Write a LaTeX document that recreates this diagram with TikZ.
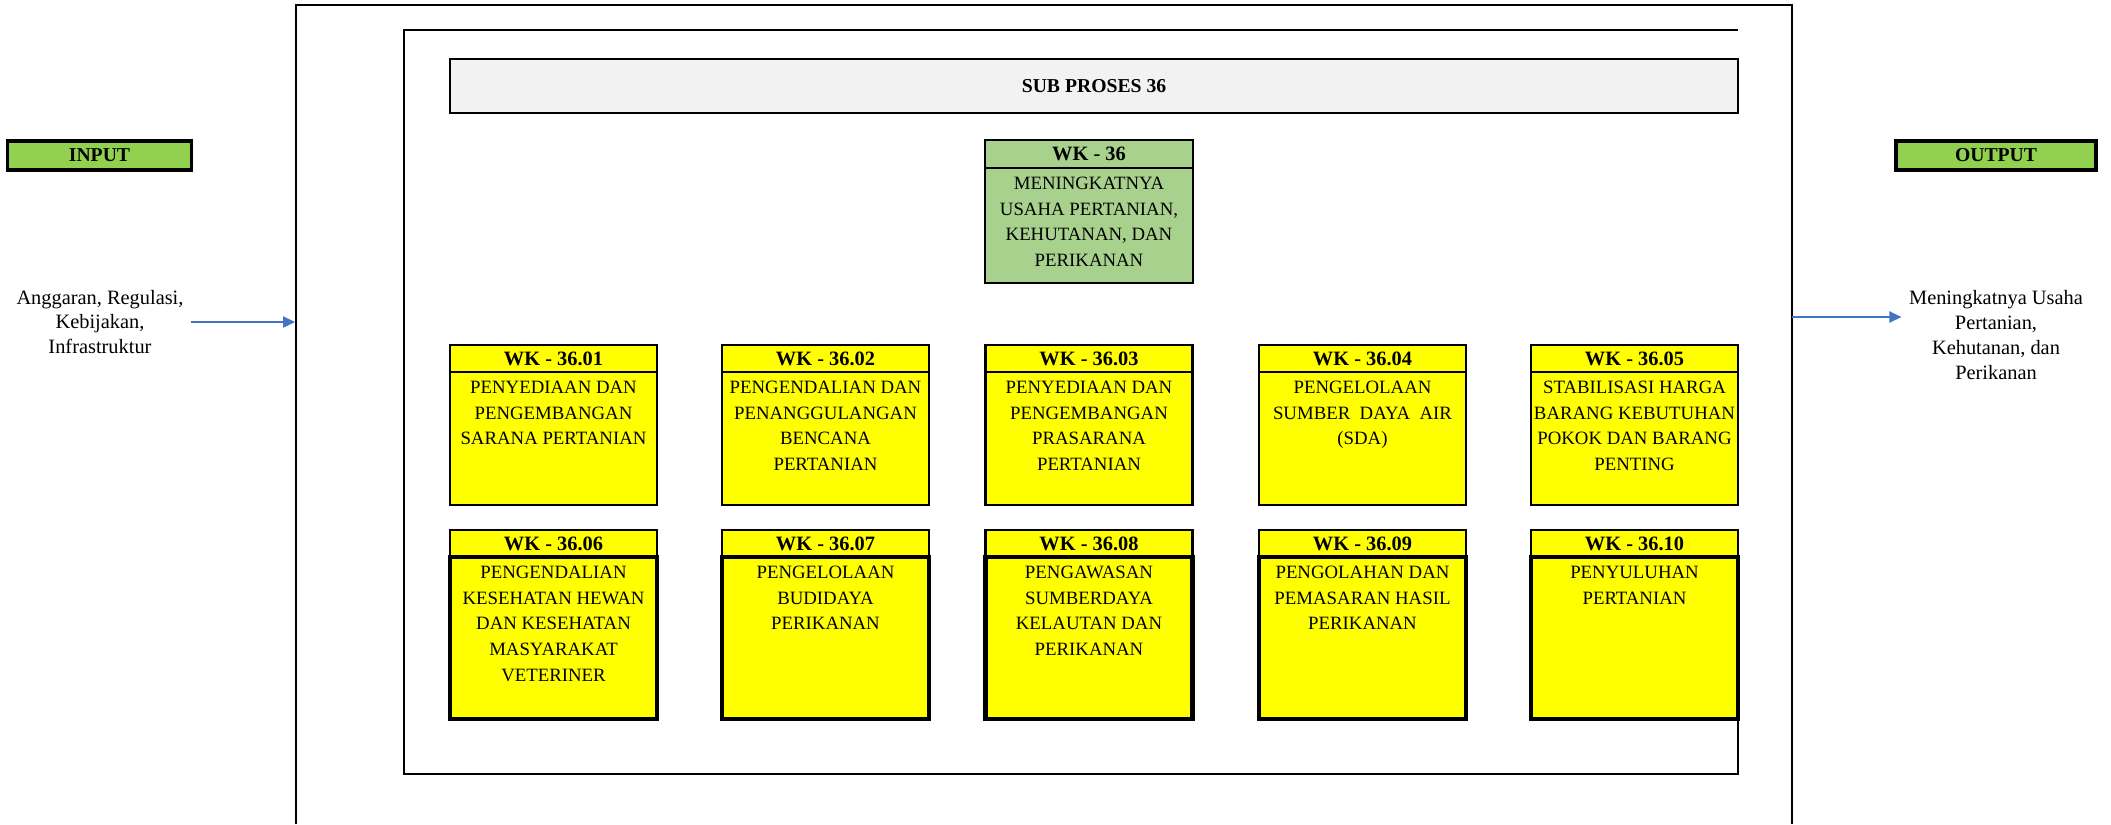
\documentclass[tikz,border=0pt]{standalone}
\usepackage{fontspec}
\setmainfont{Liberation Serif}
\usetikzlibrary{positioning,arrows.meta}

\definecolor{wkyellow}{HTML}{FFFF00}
\definecolor{wkgreen}{HTML}{A9D18E}
\definecolor{iogreen}{HTML}{92D050}
\definecolor{subgray}{HTML}{F2F2F2}
\definecolor{flowblue}{HTML}{4472C4}

% Top aligned text block inside a box body
\newcommand{\wktext}[2]{\parbox[t][#1][t]{20.6mm}{\centering\vspace*{0.9mm}#2\par}}

\begin{document}
\begin{tikzpicture}[x=0.1mm, y=-0.1mm,
    box/.style={draw, line width=0.77pt, inner sep=0pt, outer sep=0pt},
    wkhead/.style={box, fill=wkyellow, minimum width=20.7mm, minimum height=2.7mm,
      font=\fontsize{5.8}{6}\selectfont\bfseries},
    wkbody/.style={box, fill=wkyellow, minimum width=20.7mm,
      font=\fontsize{5.35}{7.3}\selectfont},
    iobox/.style={box, line width=0.9pt, fill=iogreen, minimum width=18.4mm, minimum height=2.9mm,
      font=\fontsize{5.6}{6}\selectfont\bfseries},
    iotext/.style={align=center, inner sep=2pt, font=\fontsize{5.8}{7.1}\selectfont},
    flow/.style={draw=flowblue, line width=0.37pt, -{Triangle[length=3.4pt,width=3.2pt]}}
  ]

    \useasboundingbox (0,0) rectangle (2111,824);

    % Outer frame (open at the bottom)
    \draw[line width=0.77pt] (296,824) -- (296,5) -- (1792,5) -- (1792,824);

    % Inner frame
    \draw[line width=0.77pt] (1738,30) -- (404,30) -- (404,774) -- (1738,774) -- (1738,719);

    % Sub process title
    \node[box, fill=subgray, minimum width=128.8mm, minimum height=5.4mm,
      font=\fontsize{5.6}{6}\selectfont\bfseries] (sub) at (1094,86) {SUB PROSES 36};

    % Main work unit
    \node[wkhead, fill=wkgreen, minimum width=20.8mm, minimum height=2.8mm] (h36) at (1089,154) {WK - 36};
    \node[wkbody, fill=wkgreen, minimum width=20.8mm, below=0pt of h36] (b36)
    {\wktext{11.5mm}{MENINGKATNYA\\USAHA PERTANIAN,\\KEHUTANAN, DAN\\PERIKANAN}};

    % First row of work units
    \foreach \n/\x/\txt in {
      01/553.5/{PENYEDIAAN DAN\\PENGEMBANGAN\\SARANA PERTANIAN},
      02/825.5/{PENGENDALIAN DAN\\PENANGGULANGAN\\BENCANA\\PERTANIAN},
      03/1089/{PENYEDIAAN DAN\\PENGEMBANGAN\\PRASARANA\\PERTANIAN},
      04/1362.5/{PENGELOLAAN\\SUMBER\ \ DAYA\ \ AIR\\(SDA)},
      05/1634.5/{STABILISASI HARGA\\BARANG KEBUTUHAN\\POKOK DAN BARANG\\PENTING}}
    {
      \node[wkhead] (h\n) at (\x,358.5) {WK - 36.\n};
      \node[wkbody, below=0pt of h\n] (b\n) {\wktext{13.3mm}{\txt}};
    }

    % Second row of work units
    \foreach \n/\x/\txt in {
      06/553.5/{PENGENDALIAN\\KESEHATAN HEWAN\\DAN KESEHATAN\\MASYARAKAT\\VETERINER},
      07/825.5/{PENGELOLAAN\\BUDIDAYA\\PERIKANAN},
      08/1089/{PENGAWASAN\\SUMBERDAYA\\KELAUTAN DAN\\PERIKANAN},
      09/1362.5/{PENGOLAHAN DAN\\PEMASARAN HASIL\\PERIKANAN},
      10/1634.5/{PENYULUHAN\\PERTANIAN}}
    {
      \node[wkhead] (h\n) at (\x,543.5) {WK - 36.\n};
      \node[wkbody, line width=1.28pt, below=0pt of h\n] (b\n) {\wktext{16.2mm}{\txt}};
    }

    % Input side
    \node[iobox] (input) at (99.5,155.5) {INPUT};
    \node[iotext] (intext) at (100,322) {Anggaran, Regulasi,\\Kebijakan,\\Infrastruktur};
    \coordinate (inend) at (295,322);
    \draw[flow] (intext.east) -- (inend);

    % Output side
    \node[iobox, minimum width=20mm] (output) at (1996,155.5) {OUTPUT};
    \node[iotext] (outtext) at (1996,335) {Meningkatnya Usaha\\Pertanian,\\Kehutanan, dan\\Perikanan};
    \coordinate (outstart) at (1792,317);
    \draw[flow] (outstart) -- (outstart -| outtext.west);

\end{tikzpicture}
\end{document}
